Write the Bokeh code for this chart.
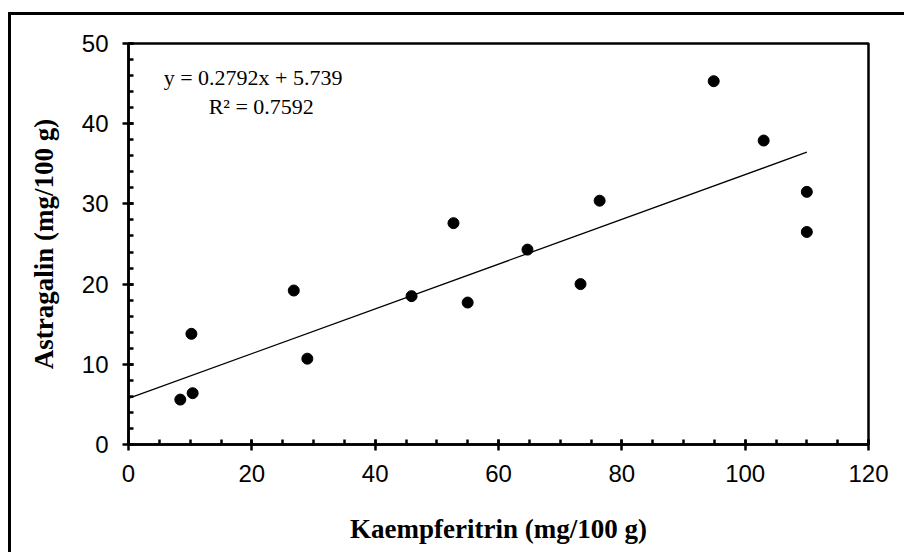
from bokeh.plotting import figure
from bokeh.models import Range1d, SingleIntervalTicker, Label, ColumnDataSource
from bokeh.embed import file_html
from bokeh.resources import INLINE

# ---- data ----
kaempferitrin = [8.4, 10.4, 10.2, 26.8, 29.0, 45.9, 52.7, 55.0, 64.7, 73.3,
                 76.4, 94.9, 103.0, 110.0, 110.0]
astragalin = [5.6, 6.4, 13.8, 19.2, 10.7, 18.5, 27.6, 17.7, 24.3, 20.0,
              30.4, 45.3, 37.9, 31.5, 26.5]
slope = 0.2792
intercept = 5.739
r_squared = 0.7592
x_label = "Kaempferitrin (mg/100 g)"
y_label = "Astragalin (mg/100 g)"

SERIF = "Liberation Serif"
SANS = "Liberation Sans"

p = figure(width=904, height=552, output_backend="svg", toolbar_location=None,
           x_range=Range1d(0, 120), y_range=Range1d(0, 50),
           min_border_left=128, min_border_right=36,
           min_border_top=43, min_border_bottom=108)
p.background_fill_color = "white"
p.border_fill_color = None
p.grid.visible = False
p.outline_line_color = "black"
p.outline_line_width = 2.5
# outer frame of the original figure: only top and left edges visible
p.styles = {
    "background-color": "white",
    "background-image": "linear-gradient(black, black), linear-gradient(black, black)",
    "background-size": "100% 3px, 3px 100%",
    "background-position": "8px 12px, 8px 12px",
    "background-repeat": "no-repeat",
}

# axes styling
for ax, interval, nminor in ((p.xaxis[0], 20, 4), (p.yaxis[0], 10, 5)):
    ax.ticker = SingleIntervalTicker(interval=interval, num_minor_ticks=nminor)
    ax.axis_line_width = 2.5
    ax.axis_line_color = "black"
    ax.major_tick_line_width = 2.5
    ax.minor_tick_line_width = 2.5
    ax.major_tick_in = 5
    ax.major_tick_out = 6
    ax.minor_tick_in = 5
    ax.minor_tick_out = 0
    ax.major_label_text_font = SANS
    ax.major_label_text_font_size = "24px"
    ax.major_label_text_color = "black"
    ax.axis_label_text_font = SERIF
    ax.axis_label_text_font_style = "bold"
    ax.axis_label_text_font_size = "27px"
    ax.axis_label_text_color = "black"

p.xaxis.axis_label = x_label
p.yaxis.axis_label = y_label
p.xaxis.major_label_standoff = 14
p.yaxis.major_label_standoff = 14
p.xaxis.axis_label_standoff = 29
p.yaxis.axis_label_standoff = 20

# trend line
tx = [0, max(kaempferitrin)]
ty = [slope * v + intercept for v in tx]
p.line(tx, ty, line_color="black", line_width=1.3)

# points
src = ColumnDataSource(dict(x=kaempferitrin, y=astragalin))
p.scatter("x", "y", source=src, size=11, fill_color="black", line_color="black")

# equation text
p.add_layout(Label(x=5.7, y=45.8, text=f"y = {slope}x + {intercept}",
                   text_font=SERIF, text_font_size="22px", text_color="black",
                   text_baseline="alphabetic", text_align="left"))
p.add_layout(Label(x=13.0, y=42.1, text=f"R² = {r_squared}",
                   text_font=SERIF, text_font_size="22px", text_color="black",
                   text_baseline="alphabetic", text_align="left"))

open("out.html", "w").write(file_html(p, INLINE))
